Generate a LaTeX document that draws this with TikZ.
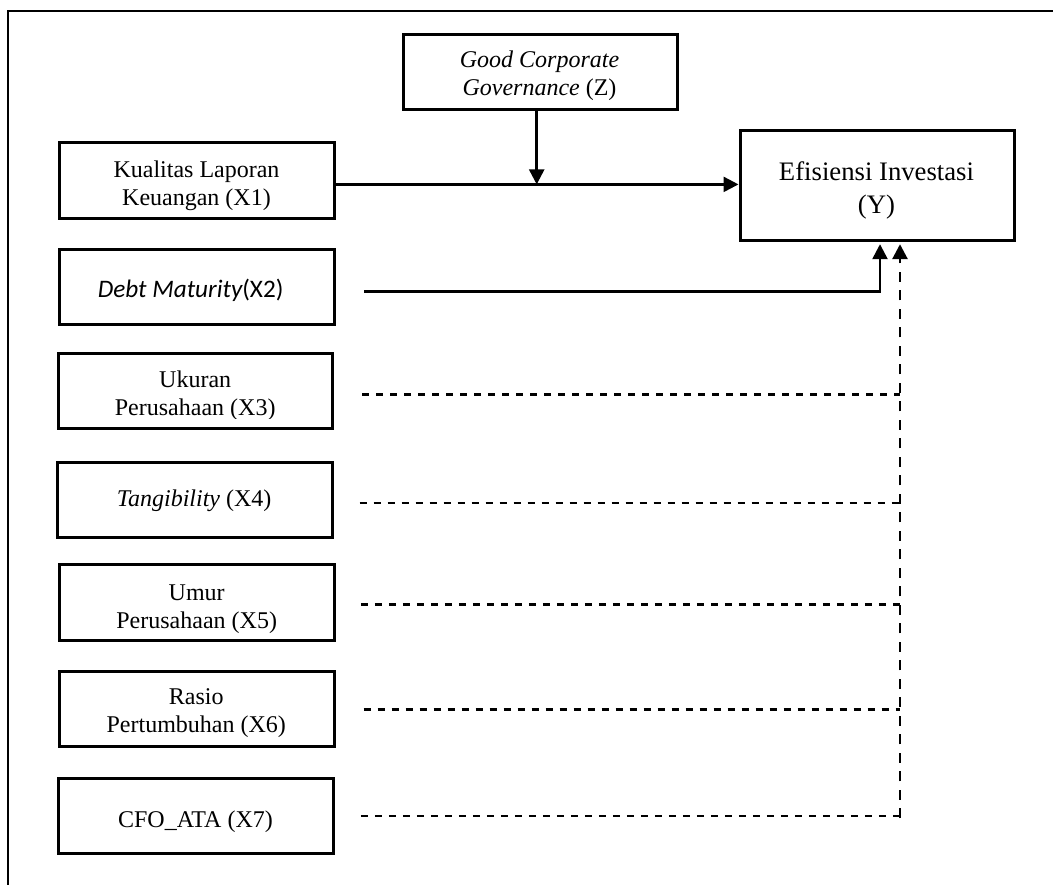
\documentclass[tikz,border=0pt]{standalone}
\usepackage{fontspec}
\setmainfont{Liberation Serif}[ItalicFont={Liberation Serif Italic}, BoldFont={Liberation Serif Bold}]
\newfontfamily\calibrifont{Carlito}
\usetikzlibrary{arrows.meta,calc}
\newcommand\twoline[2]{\begin{tabular}[b]{@{}c@{}}#1\\#2\end{tabular}}
\begin{document}
\begin{tikzpicture}[x=1pt,y=-1pt,
  box/.style n args={2}{draw, line width=3pt, inner sep=0pt, minimum width=#1, minimum height=#2},
  txt/.style={anchor=base, inner sep=0pt, font=\fontsize{24}{28.3}\selectfont},
  txtY/.style={anchor=base, inner sep=0pt, font=\fontsize{26.7}{33}\selectfont},
  txtC/.style={anchor=base, inner sep=0pt, font=\calibrifont\fontsize{25.2}{30}\selectfont},
  conn/.style={line width=2.5pt, -{Triangle[length=15pt,width=15pt]}},
  hdash/.style={line width=2.4pt, dash pattern=on 7pt off 7pt},
  vdash/.style={line width=2.8pt, dash pattern=on 10pt off 8.5pt, -{Triangle[length=15pt,width=15pt]}}]
\fill[white] (0,0) rectangle (1053,885);
\useasboundingbox (0,0) rectangle (1053,885);
% frame
\draw[line width=2.8pt] (1060,11) -- (8,11) -- (8,892);
% boxes
\node[box={274pt}{75pt}] (GCG) at (540,72) {};
\node[box={275.5pt}{75.3pt}] (X1) at (196.75,180.4) {};
\node[box={274pt}{110pt}] (Y) at (877,185.7) {};
\node[box={275.5pt}{75pt}] (X2) at (196.75,287) {};
\node[box={274pt}{75pt}] (X3) at (195.4,390.8) {};
\node[box={275.4pt}{75.8pt}] (X4) at (194.7,500) {};
\node[box={275.4pt}{76pt}] (X5) at (196.7,602) {};
\node[box={275pt}{75pt}] (X6) at (196.5,708.5) {};
\node[box={275pt}{75pt}] (X7) at (195.5,815.5) {};
% texts
\node[txt] (tGCG) at (539.5,96) {\twoline{\itshape Good Corporate}{\itshape Governance \upshape(Z)}};
\node[txt] (tX1) at (196.5,206) {\twoline{Kualitas Laporan}{Keuangan (X1)}};
\node[txtY] (tY) at (876.5,214) {\twoline{Efisiensi Investasi}{(Y)}};
\node[txtC] (tX2) at (190.6,298) {\itshape Debt Maturity\upshape(X2)};
\begin{scope}
  \clip (58.4,353.3) rectangle (332.4,418.5);
  \node[txt] (tX3) at (195.2,415.7) {\twoline{Ukuran}{Perusahaan (X3)}};
\end{scope}
\node[txt] (tX4) at (194.2,506) {\textit{Tangibility} (X4)};
\node[txt] (tX5) at (196.7,628.5) {\twoline{Umur}{Perusahaan (X5)}};
\node[txt] (tX6) at (196.3,732.6) {\twoline{Rasio}{Pertumbuhan (X6)}};
\node[txt] (tX7) at (195.5,827) {CFO\_ATA (X7)};
% X1 -> Y with moderation by GCG
\coordinate (a1) at ([yshift=-4pt]X1.east);
\draw[conn] (a1) -- (a1 -| Y.west);
\coordinate (g1) at ([xshift=-3.3pt,yshift=2.5pt]GCG.south);
\draw[conn] (g1) -- (g1 |- a1);
% X2 -> Y
\coordinate (b1) at ([xshift=28.2pt,yshift=-4.7pt]X2.east);
\coordinate (b2) at ([xshift=3pt]Y.south);
\draw[conn, shorten >=2pt] (b1) -| (b2);
% dashed controls
\coordinate (d0) at ([xshift=23pt]Y.south);
\coordinate (c3) at ([xshift=28.2pt,yshift=-3.6pt]X3.east);
\coordinate (c4) at ([xshift=25.6pt,yshift=-3.1pt]X4.east);
\coordinate (c5) at ([xshift=25pt,yshift=-2.3pt]X5.east);
\coordinate (c6) at ([xshift=28pt,yshift=-0.9pt]X6.east);
\coordinate (c7) at ([xshift=26.3pt,yshift=-0.3pt]X7.east);
\draw[hdash] (c3) -- (c3 -| d0);
\draw[hdash] (c4) -- (c4 -| d0);
\draw[hdash] (c5) -- (c5 -| d0);
\draw[hdash] (c6) -- (c6 -| d0);
\draw[hdash] (c7) -- (c7 -| d0);
\coordinate (dv) at ($(c7 -| d0)+(0,2.5)$);
\draw[vdash, shorten >=2pt] (dv) -- (d0);
\end{tikzpicture}
\end{document}
